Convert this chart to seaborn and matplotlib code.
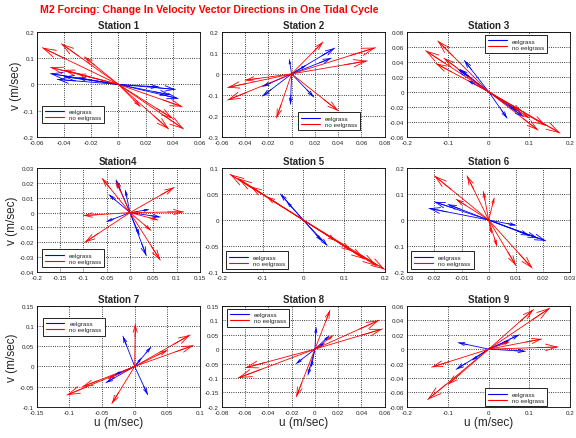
import matplotlib
matplotlib.use("Agg")
import matplotlib.pyplot as plt
from matplotlib.lines import Line2D
import seaborn as sns
import pandas as pd
import numpy as np

sns.set_style("white")
plt.rcParams['font.family'] = ['Liberation Sans', 'DejaVu Sans']
plt.rcParams['axes.unicode_minus'] = False

TITLES = ["Station 1", "Station 2", "Station 3", "Station4", "Station 5",
          "Station 6", "Station 7", "Station 8", "Station 9"]

XTICKS = [
    [-0.06, -0.04, -0.02, 0, 0.02, 0.04, 0.06],
    [-0.06, -0.04, -0.02, 0, 0.02, 0.04, 0.06, 0.08],
    [-0.2, -0.1, 0, 0.1, 0.2],
    [-0.2, -0.15, -0.1, -0.05, 0, 0.05, 0.1, 0.15],
    [-0.2, -0.1, 0, 0.1, 0.2],
    [-0.03, -0.02, -0.01, 0, 0.01, 0.02, 0.03],
    [-0.15, -0.1, -0.05, 0, 0.05, 0.1],
    [-0.08, -0.06, -0.04, -0.02, 0, 0.02, 0.04, 0.06],
    [-0.2, -0.1, 0, 0.1, 0.2],
]
YTICKS = [
    [-0.2, -0.1, 0, 0.1, 0.2],
    [-0.3, -0.2, -0.1, 0, 0.1, 0.2],
    [-0.06, -0.04, -0.02, 0, 0.02, 0.04, 0.06, 0.08],
    [-0.04, -0.03, -0.02, -0.01, 0, 0.01, 0.02, 0.03],
    [-0.1, -0.05, 0, 0.05, 0.1],
    [-0.2, -0.1, 0, 0.1, 0.2],
    [-0.1, -0.05, 0, 0.05, 0.1, 0.15],
    [-0.2, -0.15, -0.1, -0.05, 0, 0.05, 0.1, 0.15],
    [-0.08, -0.06, -0.04, -0.02, 0, 0.02, 0.04, 0.06],
]
LEGEND_LOC = ["lower left", "lower right", "upper right", "lower left", "lower left",
              "lower left", "upper left", "upper left", "lower right"]
LEGEND_ANCHOR = [(0.03, 0.13), (0.85, 0.067), (0.86, 0.97), (0.03, 0.05), (0.025, 0.03),
                 (0.025, 0.03), (0.035, 0.88), (0.03, 0.97), (0.86, 0.01)]

# velocity vectors (u, v)
eel1 = [(-0.05, 0.041), (-0.045, 0.019), (-0.03, 0.025), (0.042, -0.019),
        (0.044, -0.054), (0.038, -0.04), (0.03, -0.01), (-0.04, 0.03)]
noeel1 = [(-0.056, 0.14), (-0.042, 0.155), (-0.05, 0.065), (-0.025, 0.105),
          (-0.04, 0.055), (0.047, -0.085), (0.048, -0.17), (0.037, -0.17),
          (0.016, -0.084), (0.04, -0.13), (-0.03, 0.04)]
eel2 = [(0.037, 0.123), (0.034, 0.075), (-0.025, -0.106), (-0.025, -0.06),
        (-0.002, 0.068), (-0.001, -0.145), (0.019, -0.11), (0.012, 0.04)]
noeel2 = [(0.072, 0.125), (0.065, 0.062), (-0.055, -0.065), (-0.055, -0.125),
          (0.027, 0.152), (0.04, -0.176), (-0.013, -0.21), (-0.04, -0.03)]
eel3 = [(-0.06, 0.042), (-0.07, 0.03), (-0.05, 0.015), (0.045, -0.035),
        (0.085, -0.033), (0.07, -0.025), (-0.075, 0.03)]
noeel3 = [(-0.155, 0.055), (-0.125, 0.068), (-0.13, 0.038), (-0.11, 0.045),
          (0.175, -0.055), (0.14, -0.045), (0.121, -0.051), (0.08, -0.025),
          (0.1, -0.035)]
eel4 = [(-0.03, 0.022), (-0.045, 0.012), (-0.05, -0.006), (0.065, -0.003),
        (0.035, -0.029), (0.04, 0.002), (0.02, -0.015), (-0.01, 0.015)]
noeel4 = [(-0.06, 0.023), (-0.1, -0.002), (-0.097, -0.02), (0.095, 0.017),
          (0.115, 0.0005), (0.065, -0.032), (-0.03, 0.021), (0.06, -0.005),
          (0.045, -0.012)]
eel5 = [(-0.056, 0.05), (0.059, -0.049), (0.045, -0.04), (-0.04, 0.035)]
noeel5 = [(-0.18, 0.088), (-0.16, 0.08), (-0.13, 0.065), (-0.09, 0.045),
          (0.2, -0.095), (0.18, -0.088), (0.15, -0.075), (0.12, -0.06),
          (0.08, -0.04)]
eel6 = [(-0.02, 0.07), (-0.022, 0.045), (0.021, -0.08), (0.015, -0.06),
        (-0.015, 0.06), (0.01, -0.02), (0.018, -0.07)]
noeel6 = [(-0.02, 0.17), (-0.008, 0.17), (-0.002, 0.11), (0.016, -0.185),
          (0.01, -0.175), (0.003, -0.1), (-0.012, 0.08), (0.002, 0.085),
          (0.001, -0.05)]
eel7 = [(-0.018, 0.075), (0.025, 0.048), (0.02, -0.07), (-0.044, -0.04),
        (-0.03, -0.02), (0.01, 0.02)]
noeel7 = [(-0.104, -0.071), (-0.08, -0.05), (0.09, 0.052), (0.085, 0.078),
          (0.001, 0.105), (-0.035, -0.092), (-0.04, -0.03), (0.05, 0.04)]
eel8 = [(0.001, 0.075), (0.012, 0.045), (-0.016, -0.05), (-0.006, -0.09),
        (0.008, 0.02), (-0.003, -0.06)]
noeel8 = [(0.055, 0.1), (0.058, 0.07), (-0.066, -0.1), (-0.06, -0.065),
          (0.013, 0.135), (-0.016, -0.165), (0.0155, 0.047)]
eel9 = [(0.075, 0.02), (0.09, -0.003), (-0.075, 0.009), (-0.08, -0.028),
        (0.05, 0.012), (-0.04, -0.015)]
noeel9 = [(0.15, 0.057), (0.11, 0.055), (-0.15, -0.07), (-0.14, -0.025),
          (0.17, 0.003), (0.13, 0.014), (-0.1, -0.049), (0.05, 0.01)]

EEL = [eel1, eel2, eel3, eel4, eel5, eel6, eel7, eel8, eel9]
NOEEL = [noeel1, noeel2, noeel3, noeel4, noeel5, noeel6, noeel7, noeel8, noeel9]

PALETTE = {"eelgrass": "#0000ff", "no eelgrass": "#ff0000"}


def fmt(t):
    return "0" if t == 0 else f"{t:g}"


fig = plt.figure(figsize=(5.76, 4.39), dpi=100)
lefts = [0.064, 0.385, 0.707]
bottoms = [0.686, 0.378, 0.071]
heights = [0.239, 0.237, 0.23]

for i in range(9):
    r, c = divmod(i, 3)
    ax = fig.add_axes([lefts[c], bottoms[r], 0.283, heights[r]])
    xt, yt = XTICKS[i], YTICKS[i]

    rows = []
    for name, vecs in (("eelgrass", EEL[i]), ("no eelgrass", NOEEL[i])):
        for k, (u, v) in enumerate(vecs):
            rows.append({"series": name, "vec": f"{name}{k}", "u": 0.0, "v": 0.0})
            rows.append({"series": name, "vec": f"{name}{k}", "u": u, "v": v})
    df = pd.DataFrame(rows)
    sns.lineplot(data=df, x="u", y="v", hue="series", units="vec",
                 estimator=None, sort=False, palette=PALETTE, lw=0.6,
                 ax=ax, legend=False)

    ax.set_xlim(xt[0], xt[-1])
    ax.set_ylim(yt[0], yt[-1])

    # arrow heads scaled with vector length, like matlab quiver
    for name, vecs in (("eelgrass", EEL[i]), ("no eelgrass", NOEEL[i])):
        for u, v in vecs:
            p0 = ax.transData.transform((0, 0))
            p1 = ax.transData.transform((u, v))
            L_pt = np.hypot(*(p1 - p0)) * 72 / fig.dpi
            ms = float(np.clip(0.16 * L_pt, 2.0, 9.0))
            ax.annotate("", xy=(u, v), xytext=(0.7 * u, 0.7 * v),
                        arrowprops=dict(arrowstyle="->,head_length=1.0,head_width=0.3",
                                        color=PALETTE[name], lw=0.6,
                                        shrinkA=0, shrinkB=0, mutation_scale=ms))

    ax.set_xticks(xt)
    ax.set_yticks(yt)
    ax.set_xticklabels([fmt(t) for t in xt])
    ax.set_yticklabels([fmt(t) for t in yt])
    ax.tick_params(labelsize=4.5, direction="in", length=2, width=0.5, pad=2)
    ax.grid(True, linestyle=":", color="black", lw=0.6)
    for s in ax.spines.values():
        s.set_color("black")
        s.set_linewidth(0.6)

    ax.set_title(TITLES[i], fontsize=7, fontweight="bold", pad=3)
    ax.set_xlabel("u (m/sec)" if r == 2 else "", fontsize=8.5, labelpad=1)
    ax.set_ylabel("v (m/sec)" if c == 0 else "", fontsize=8.5, labelpad=1)

    handles = [Line2D([], [], color=PALETTE["eelgrass"], lw=0.8),
               Line2D([], [], color=PALETTE["no eelgrass"], lw=0.8)]
    leg = ax.legend(handles, ["eelgrass", "no eelgrass"], loc=LEGEND_LOC[i],
                    bbox_to_anchor=LEGEND_ANCHOR[i], borderaxespad=0,
                    fontsize=4.5, frameon=True, fancybox=False, edgecolor="black",
                    framealpha=1, handlelength=3, borderpad=0.5, labelspacing=0.1)
    leg.get_frame().set_linewidth(0.6)

fig.text(0.069, 0.977, "M2 Forcing: Change In Velocity Vector Directions in One Tidal Cycle",
         color="#ff0000", fontsize=7.6, fontweight="bold", va="center", ha="left")

fig.savefig("out.png", dpi=100)
